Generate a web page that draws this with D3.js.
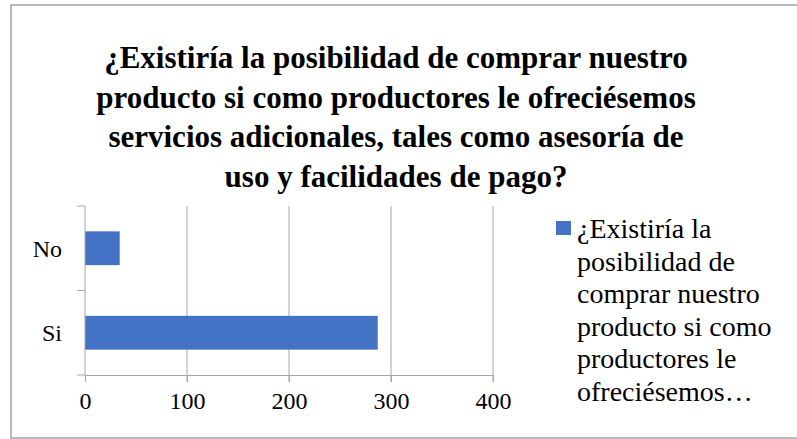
<!DOCTYPE html>
<html>
<head>
<meta charset="utf-8">
<script src="https://cdn.jsdelivr.net/npm/d3@7"></script>
</head>
<body style="margin:0; background:#fff">
<svg id="chart" width="797" height="439" style="display:block"></svg>
<script>
// Chart data
const categories = ['Si', 'No'];
const values = [287, 34];
const xTicks = [0, 100, 200, 300, 400];
const titleLines = [
    '¿Existiría la posibilidad de comprar nuestro',
    'producto si como productores le ofreciésemos',
    'servicios adicionales, tales como asesoría de',
    'uso y facilidades de pago?'
];
const legendLines = [
    '¿Existiría la',
    'posibilidad de',
    'comprar nuestro',
    'producto si como',
    'productores le',
    'ofreciésemos…'
];

const FONT = 'Liberation Serif';
const svg = d3.select('#chart');

// Chart frame (right edge runs off the picture)
svg.append('rect')
    .attr('x', 11).attr('y', 5)
    .attr('width', 800).attr('height', 433)
    .attr('fill', 'none')
    .attr('stroke', '#a3a3a3')
    .attr('stroke-width', 1.5);

// Title
svg.append('g')
    .selectAll('text')
    .data(titleLines)
    .enter().append('text')
    .attr('x', 396)
    .attr('y', (d, i) => 68 + i * 39.5)
    .attr('text-anchor', 'middle')
    .attr('font-family', FONT)
    .attr('font-weight', 'bold')
    .attr('font-size', 31)
    .attr('fill', '#000')
    .text(d => d);

// Plot area
const x = d3.scaleLinear().domain([0, 400]).range([85, 493]);
const y = d3.scaleBand().domain(categories).range([375, 206]).paddingInner(0.6).paddingOuter(0.3);

// Vertical gridlines
svg.append('g')
    .selectAll('line')
    .data(xTicks.slice(1))
    .enter().append('line')
    .attr('x1', d => x(d)).attr('x2', d => x(d))
    .attr('y1', 206).attr('y2', 382)
    .attr('stroke', '#a6a6a6')
    .attr('stroke-width', 1);

// Bars
svg.append('g')
    .selectAll('rect')
    .data(categories)
    .enter().append('rect')
    .attr('x', x(0))
    .attr('y', d => y(d))
    .attr('width', (d, i) => x(values[i]) - x(0))
    .attr('height', y.bandwidth())
    .attr('fill', '#4472c4');

// X axis
const xAxis = svg.append('g')
    .attr('transform', 'translate(0,375)')
    .call(d3.axisBottom(x).tickValues(xTicks).tickSize(7).tickPadding(10));
xAxis.attr('font-family', FONT).attr('font-size', 24);
xAxis.select('.domain').attr('stroke', '#a6a6a6');
xAxis.selectAll('.tick line').attr('stroke', '#a6a6a6');
xAxis.selectAll('.tick text')
    .attr('font-family', FONT)
    .attr('font-size', 24)
    .attr('fill', '#000');

// Y axis with ticks between categories
const yAxis = svg.append('g')
    .attr('transform', 'translate(85,0)');
yAxis.append('line')
    .attr('x1', 0).attr('x2', 0)
    .attr('y1', 206).attr('y2', 375)
    .attr('stroke', '#a6a6a6');
yAxis.selectAll('line.tk')
    .data([206, (206 + 375) / 2, 375])
    .enter().append('line')
    .attr('class', 'tk')
    .attr('x1', -8).attr('x2', 0)
    .attr('y1', d => d).attr('y2', d => d)
    .attr('stroke', '#a6a6a6');
yAxis.selectAll('text')
    .data(categories)
    .enter().append('text')
    .attr('x', -23)
    .attr('y', d => y(d) + y.bandwidth() / 2)
    .attr('dy', '0.35em')
    .attr('text-anchor', 'end')
    .attr('font-family', FONT)
    .attr('font-size', 24)
    .attr('fill', '#000')
    .text(d => d);

// Legend
svg.append('rect')
    .attr('x', 556).attr('y', 221)
    .attr('width', 15).attr('height', 14)
    .attr('fill', '#4472c4');
svg.append('g')
    .selectAll('text')
    .data(legendLines)
    .enter().append('text')
    .attr('x', 577)
    .attr('y', (d, i) => 238 + i * 32.5)
    .attr('font-family', FONT)
    .attr('font-size', 28)
    .attr('fill', '#000')
    .text(d => d);
</script>
</body>
</html>
